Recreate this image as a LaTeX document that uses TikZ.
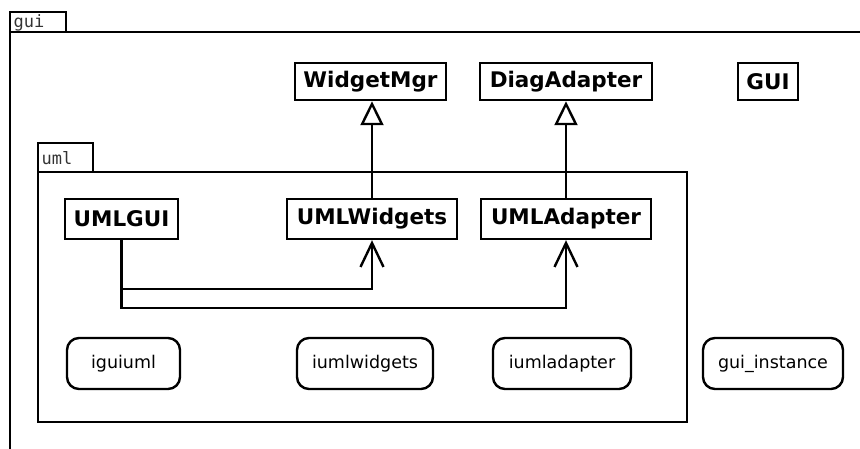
\documentclass[tikz,border=0pt]{standalone}
\usepackage{fontspec}
\setmainfont{DejaVu Sans}
\setmonofont{DejaVu Sans Mono}
\usetikzlibrary{arrows.meta}

\begin{document}
\begin{tikzpicture}[x=1pt,y=-1pt,line width=2.4pt,
  cls/.style={draw,inner sep=0pt,minimum height=37pt,
    font=\bfseries\fontsize{21.5}{24}\selectfont},
  inst/.style={draw,rounded corners=12pt,inner sep=0pt,minimum height=51pt,
    font=\fontsize{17.5}{20}\selectfont},
  tabtext/.style={anchor=west,inner sep=0pt,text=black!80,
    font=\ttfamily\fontsize{17}{19}\selectfont},
  inherit/.style={-{Triangle[open,length=24pt,width=23pt]}},
  dep/.style={-{Straight Barb[length=24pt,width=23pt]}}]

\useasboundingbox (0,0) rectangle (860,448);
\clip (0,0) rectangle (860,448);

% package gui
\draw (10,12) rectangle (66,32);
\node[tabtext] (guilabel) at (12.5,22.5) {gui};
\draw (870,32) -- (10,32) -- (10,460);

% package uml
\draw (38,143) rectangle (93,172);
\node[tabtext] (umllabel) at (40.5,158) {uml};
\draw (38,172) rectangle (687,422);

% classes
\node[cls,minimum width=151pt] (widgetmgr) at (370.5,81.5) {WidgetMgr};
\node[cls,minimum width=172pt] (diagadapter) at (566,81.5) {DiagAdapter};
\node[cls,minimum width=60pt] (gui) at (768,81.5) {GUI};
\node[cls,minimum width=113pt,minimum height=40pt] (umlgui) at (121.5,219) {UMLGUI};
\node[cls,minimum width=170pt,minimum height=40pt] (umlwidgets) at (372,219) {UMLWidgets};
\node[cls,minimum width=170pt,minimum height=40pt] (umladapter) at (566,219) {UMLAdapter};

% instances
\node[inst,minimum width=113pt] (iguiuml) at (123.5,363.5) {iguiuml};
\node[inst,minimum width=136pt] (iumlwidgets) at (365,363.5) {iumlwidgets};
\node[inst,minimum width=138pt] (iumladapter) at (562,363.5) {iumladapter};
\node[inst,minimum width=140pt] (guiinstance) at (773,363.5) {gui\_instance};

% generalisations
\draw[inherit] (umlwidgets.north) -- (umlwidgets.north |- widgetmgr.south);
\draw[inherit] (umladapter.north) -- (umladapter.north |- diagadapter.south);

% dependencies
\coordinate (row1) at (0,289);
\coordinate (row2) at (0,308);
\draw[dep] (umlgui.south) -- (umlgui.south |- row1) -| (umlwidgets.south);
\draw[dep] (umlgui.south) -- (umlgui.south |- row2) -| (umladapter.south);
\end{tikzpicture}
\end{document}
